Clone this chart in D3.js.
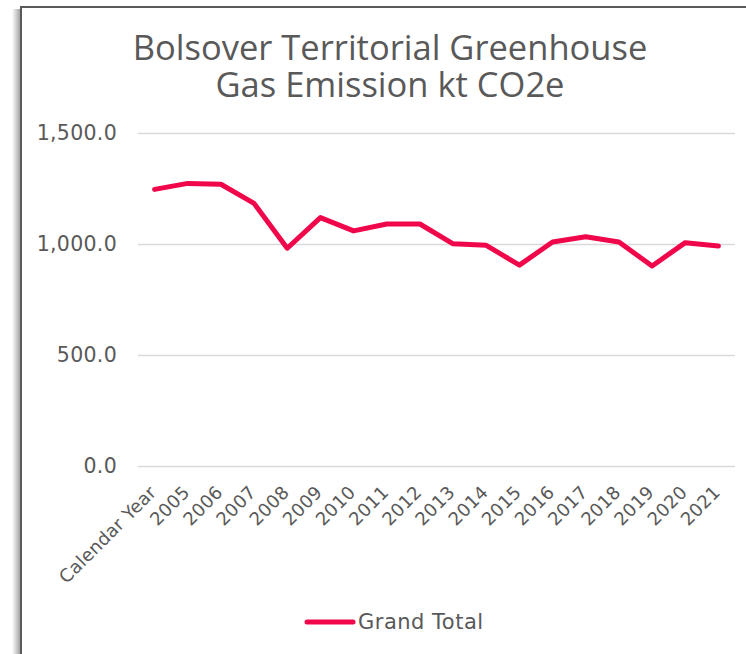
<!DOCTYPE html>
<html>
<head>
<meta charset="utf-8">
<script src="https://cdn.jsdelivr.net/npm/d3@7"></script>
<style>
  body { margin: 0; background: #fff; }
  svg { display: block; }
</style>
</head>
<body>
<div id="chart"></div>
<script>
// chart data
const categories = ["Calendar Year", "2005", "2006", "2007", "2008", "2009", "2010", "2011", "2012",
                    "2013", "2014", "2015", "2016", "2017", "2018", "2019", "2020", "2021"];
const grandTotal = [1246, 1273, 1269, 1183, 981, 1119, 1059, 1090, 1090,
                    1001, 994, 905, 1009, 1033, 1009, 901, 1006, 991];
const yTicks = [0, 500, 1000, 1500];
const titleLines = ["Bolsover Territorial Greenhouse", "Gas Emission kt CO2e"];
const seriesName = "Grand Total";

const width = 746;
const height = 654;
const plot = { left: 138, right: 735, top: 133, bottom: 466 };
const lineColor = "#f0064b";
const textColor = "#595959";

const svg = d3.select("#chart")
              .append("svg")
              .attr("width", width)
              .attr("height", height);

// frame with a soft shadow on the left
const grad = svg.append("defs").append("linearGradient")
                .attr("id", "shadow")
                .attr("x1", "0").attr("x2", "1");
grad.append("stop").attr("offset", "0").attr("stop-color", "#fff");
grad.append("stop").attr("offset", "1").attr("stop-color", "#9a9a9a");

svg.append("rect")
   .attr("x", 12).attr("y", 9)
   .attr("width", 9).attr("height", height - 9)
   .attr("fill", "url(#shadow)");

svg.append("path")
   .attr("d", `M21,${height} V7 H${width}`)
   .attr("fill", "none")
   .attr("stroke", "#5a5a5a")
   .attr("stroke-width", 2);

// title, two lines in one text element
svg.append("text")
   .attr("text-anchor", "middle")
   .attr("font-family", "'Open Sans', sans-serif")
   .attr("font-size", 34.5)
   .attr("fill", textColor)
   .selectAll("tspan")
   .data(titleLines)
   .join("tspan")
   .attr("x", 390)
   .attr("y", (d, i) => 60 + i * 37)
   .text(d => d);

// scales
const xScale = d3.scalePoint()
                 .domain(categories)
                 .range([plot.left, plot.right])
                 .padding(0.5);

const yScale = d3.scaleLinear()
                 .domain([0, 1500])
                 .range([plot.bottom, plot.top]);

// y axis with gridlines
const yAxis = d3.axisLeft(yScale)
                .tickValues(yTicks)
                .tickSize(plot.left - plot.right)
                .tickPadding(21)
                .tickFormat(d3.format(",.1f"));

const yG = svg.append("g")
              .attr("transform", `translate(${plot.left}, 0)`)
              .call(yAxis);
yG.select(".domain").remove();
yG.selectAll(".tick line")
  .attr("stroke", "#d9d9d9")
  .attr("stroke-width", 1.5);
yG.selectAll(".tick text")
  .attr("font-family", "DejaVu Sans, Verdana, sans-serif")
  .attr("font-size", 20.5)
  .attr("letter-spacing", 0.3)
  .attr("fill", textColor);

// x axis labels, rotated
const xAxis = d3.axisBottom(xScale).tickSize(0).tickPadding(0);
const xG = svg.append("g")
              .attr("transform", `translate(0, ${plot.bottom})`)
              .call(xAxis);
xG.select(".domain").remove();
xG.selectAll(".tick text")
  .attr("font-family", "DejaVu Sans, Verdana, sans-serif")
  .attr("font-size", 18)
  .attr("letter-spacing", 0.3)
  .attr("fill", textColor)
  .attr("text-anchor", "end")
  .attr("dy", "0.35em")
  .attr("transform", "translate(-2, 23) rotate(-45)");

// series line
const line = d3.line()
               .x((d, i) => xScale(categories[i]))
               .y(d => yScale(d));

svg.append("path")
   .datum(grandTotal)
   .attr("d", line)
   .attr("fill", "none")
   .attr("stroke", lineColor)
   .attr("stroke-width", 5)
   .attr("stroke-linejoin", "round")
   .attr("stroke-linecap", "round");

// legend
const legend = svg.append("g").attr("transform", "translate(307, 622)");
legend.append("line")
      .attr("x1", 0).attr("x2", 46)
      .attr("stroke", lineColor)
      .attr("stroke-width", 5)
      .attr("stroke-linecap", "round");
legend.append("text")
      .attr("x", 51)
      .attr("dy", "0.35em")
      .attr("font-family", "DejaVu Sans, Verdana, sans-serif")
      .attr("font-size", 21)
      .attr("letter-spacing", 0.5)
      .attr("fill", textColor)
      .text(seriesName);
</script>
</body>
</html>
